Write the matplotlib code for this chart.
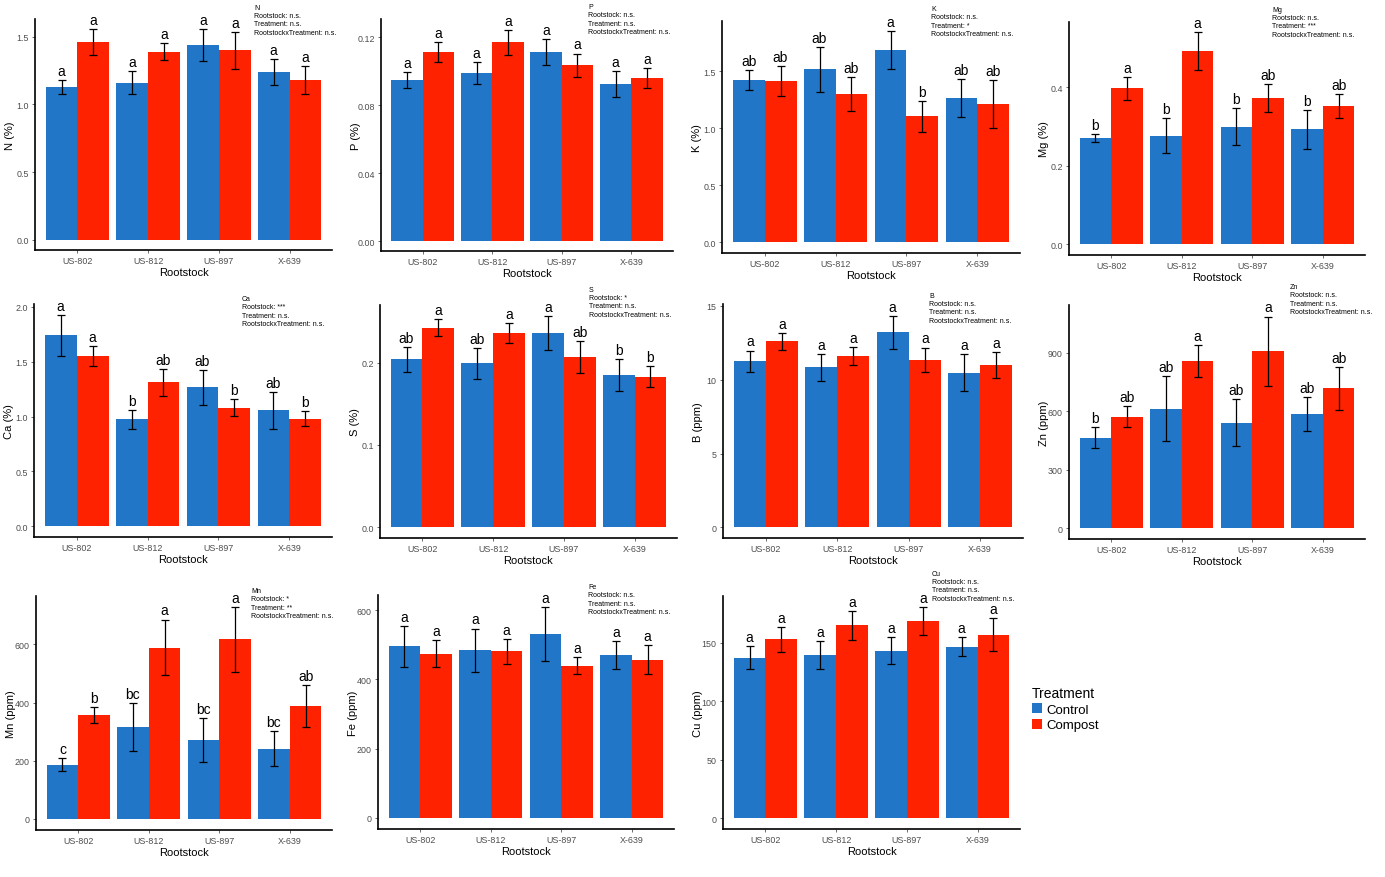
import matplotlib
matplotlib.use("Agg")
import numpy as np
import matplotlib.pyplot as plt
from matplotlib.patches import Patch

plt.rcParams['font.family'] = ['Liberation Sans', 'DejaVu Sans']

rootstocks = ['US-802', 'US-812', 'US-897', 'X-639']

# means and standard errors
N_ctrl = [1.13, 1.16, 1.44, 1.24]
N_ctrl_se = [0.05, 0.085, 0.12, 0.095]
N_comp = [1.46, 1.39, 1.40, 1.18]
N_comp_se = [0.095, 0.06, 0.135, 0.105]
N_ctrl_let = ['a', 'a', 'a', 'a']
N_comp_let = ['a', 'a', 'a', 'a']

P_ctrl = [0.0949, 0.099, 0.1114, 0.0924]
P_ctrl_se = [0.0045, 0.0064, 0.0077, 0.0076]
P_comp = [0.1114, 0.1172, 0.1037, 0.0962]
P_comp_se = [0.006, 0.0073, 0.0068, 0.0058]
P_ctrl_let = ['a', 'a', 'a', 'a']
P_comp_let = ['a', 'a', 'a', 'a']

K_ctrl = [1.42, 1.515, 1.687, 1.261]
K_ctrl_se = [0.088, 0.195, 0.166, 0.165]
K_comp = [1.412, 1.301, 1.103, 1.211]
K_comp_se = [0.135, 0.149, 0.137, 0.206]
K_ctrl_let = ['ab', 'ab', 'a', 'ab']
K_comp_let = ['ab', 'ab', 'b', 'ab']

Mg_ctrl = [0.271, 0.277, 0.300, 0.293]
Mg_ctrl_se = [0.011, 0.044, 0.047, 0.049]
Mg_comp = [0.397, 0.492, 0.372, 0.352]
Mg_comp_se = [0.030, 0.048, 0.035, 0.030]
Mg_ctrl_let = ['b', 'b', 'b', 'b']
Mg_comp_let = ['a', 'a', 'ab', 'ab']

Ca_ctrl = [1.739, 0.974, 1.266, 1.059]
Ca_ctrl_se = [0.187, 0.087, 0.157, 0.168]
Ca_comp = [1.551, 1.311, 1.081, 0.978]
Ca_comp_se = [0.087, 0.125, 0.08, 0.068]
Ca_ctrl_let = ['a', 'b', 'ab', 'ab']
Ca_comp_let = ['a', 'ab', 'b', 'b']

S_ctrl = [0.204, 0.199, 0.236, 0.185]
S_ctrl_se = [0.015, 0.019, 0.0205, 0.019]
S_comp = [0.2425, 0.236, 0.207, 0.183]
S_comp_se = [0.0105, 0.012, 0.019, 0.013]
S_ctrl_let = ['ab', 'ab', 'a', 'b']
S_comp_let = ['a', 'a', 'ab', 'b']

B_ctrl = [11.25, 10.84, 13.21, 10.48]
B_ctrl_se = [0.73, 0.9, 1.1, 1.23]
B_comp = [12.60, 11.63, 11.36, 11.0]
B_comp_se = [0.58, 0.6, 0.82, 0.9]
B_ctrl_let = ['a', 'a', 'a', 'a']
B_comp_let = ['a', 'a', 'a', 'a']

Zn_ctrl = [464, 613, 541, 584]
Zn_ctrl_se = [53, 167, 121, 87]
Zn_comp = [572, 859, 907, 716]
Zn_comp_se = [55, 82, 178, 112]
Zn_ctrl_let = ['b', 'ab', 'ab', 'ab']
Zn_comp_let = ['ab', 'a', 'a', 'ab']

Mn_ctrl = [187, 316, 271, 242]
Mn_ctrl_se = [23, 83, 76, 61]
Mn_comp = [357, 589, 617, 388]
Mn_comp_se = [27, 96, 112, 72]
Mn_ctrl_let = ['c', 'bc', 'bc', 'bc']
Mn_comp_let = ['b', 'a', 'a', 'ab']

Fe_ctrl = [496, 484, 530, 470]
Fe_ctrl_se = [59, 63, 78, 41]
Fe_comp = [475, 481, 440, 457]
Fe_comp_se = [40, 35, 25, 42]
Fe_ctrl_let = ['a', 'a', 'a', 'a']
Fe_comp_let = ['a', 'a', 'a', 'a']

Cu_ctrl = [137.2, 139.2, 143.2, 146.6]
Cu_ctrl_se = [9.8, 11.8, 11.4, 8.0]
Cu_comp = [152.9, 164.8, 168.5, 156.8]
Cu_comp_se = [10.7, 12.3, 12.1, 14.3]
Cu_ctrl_let = ['a', 'a', 'a', 'a']
Cu_comp_let = ['a', 'a', 'a', 'a']

stats = {
    'N': ['n.s.', 'n.s.', 'n.s.'],
    'P': ['n.s.', 'n.s.', 'n.s.'],
    'K': ['n.s.', '*', 'n.s.'],
    'Mg': ['n.s.', '***', 'n.s.'],
    'Ca': ['***', 'n.s.', 'n.s.'],
    'S': ['*', 'n.s.', 'n.s.'],
    'B': ['n.s.', 'n.s.', 'n.s.'],
    'Zn': ['n.s.', 'n.s.', 'n.s.'],
    'Mn': ['*', '**', 'n.s.'],
    'Fe': ['n.s.', 'n.s.', 'n.s.'],
    'Cu': ['n.s.', 'n.s.', 'n.s.'],
}

# layout: name, unit, data, axes box in px (left, top, right, bottom), ylim, yticks, fmt, annotation xy px
panels = [
    ('N', '%', (N_ctrl, N_ctrl_se, N_comp, N_comp_se, N_ctrl_let, N_comp_let),
     (35, 20, 332, 251), (-0.076, 1.631), [0, 0.5, 1.0, 1.5], '{:.1f}', (254, 5)),
    ('P', '%', (P_ctrl, P_ctrl_se, P_comp, P_comp_se, P_ctrl_let, P_comp_let),
     (381, 20, 673, 252), (-0.0057, 0.1308), [0, 0.04, 0.08, 0.12], '{:.2f}', (588, 4)),
    ('K', '%', (K_ctrl, K_ctrl_se, K_comp, K_comp_se, K_ctrl_let, K_comp_let),
     (722, 22, 1020, 254), (-0.094, 1.938), [0, 0.5, 1.0, 1.5], '{:.1f}', (931, 6)),
    ('Mg', '%', (Mg_ctrl, Mg_ctrl_se, Mg_comp, Mg_comp_se, Mg_ctrl_let, Mg_comp_let),
     (1069, 23, 1365, 256), (-0.027, 0.566), [0, 0.2, 0.4], '{:.1f}', (1272, 7)),
    ('Ca', '%', (Ca_ctrl, Ca_ctrl_se, Ca_comp, Ca_comp_se, Ca_ctrl_let, Ca_comp_let),
     (34, 305, 332, 538), (-0.097, 2.025), [0, 0.5, 1.0, 1.5, 2.0], '{:.1f}', (242, 296)),
    ('S', '%', (S_ctrl, S_ctrl_se, S_comp, S_comp_se, S_ctrl_let, S_comp_let),
     (380, 306, 677, 539), (-0.013, 0.270), [0, 0.1, 0.2], '{:.1f}', (589, 287)),
    ('B', 'ppm', (B_ctrl, B_ctrl_se, B_comp, B_comp_se, B_ctrl_let, B_comp_let),
     (723, 305, 1023, 539), (-0.72, 15.13), [0, 5, 10, 15], '{:.0f}', (929, 293)),
    ('Zn', 'ppm', (Zn_ctrl, Zn_ctrl_se, Zn_comp, Zn_comp_se, Zn_ctrl_let, Zn_comp_let),
     (1069, 306, 1365, 540), (-56, 1144), [0, 300, 600, 900], '{:.0f}', (1290, 284)),
    ('Mn', 'ppm', (Mn_ctrl, Mn_ctrl_se, Mn_comp, Mn_comp_se, Mn_ctrl_let, Mn_comp_let),
     (36, 597, 332, 831), (-38, 766), [0, 200, 400, 600], '{:.0f}', (251, 588)),
    ('Fe', 'ppm', (Fe_ctrl, Fe_ctrl_se, Fe_comp, Fe_comp_se, Fe_ctrl_let, Fe_comp_let),
     (378, 596, 674, 830), (-32, 644), [0, 200, 400, 600], '{:.0f}', (588, 584)),
    ('Cu', 'ppm', (Cu_ctrl, Cu_ctrl_se, Cu_comp, Cu_comp_se, Cu_ctrl_let, Cu_comp_let),
     (723, 597, 1020, 830), (-9.4, 189.9), [0, 50, 100, 150], '{:.0f}', (932, 571)),
]

BLUE = '#2176C7'
RED = '#FE2200'
W, H = 1385, 878

fig = plt.figure(figsize=(W / 100, H / 100), dpi=100)

x = np.arange(1, 5)
bw = 0.45

for name, unit, data, box, ylim, yticks, fmt, ann in panels:
    ctrl, ctrl_se, comp, comp_se, ctrl_let, comp_let = data
    l, t, r, b = box
    ax = fig.add_axes([l / W, 1 - b / H, (r - l) / W, (b - t) / H])
    for off, vals, se, col, lets in [(-bw / 2, ctrl, ctrl_se, BLUE, ctrl_let),
                                     (bw / 2, comp, comp_se, RED, comp_let)]:
        ax.bar(x + off, vals, width=bw, color=col, edgecolor='none')
        ax.errorbar(x + off, vals, yerr=se, fmt='none', ecolor='black',
                    elinewidth=0.9, capsize=3, capthick=0.9)
        for xi, v, s, lab in zip(x + off, vals, se, lets):
            ax.annotate(lab, (xi, v + s), xytext=(0, 1.5), textcoords='offset points',
                        ha='center', va='bottom', fontsize=10)
    ax.set_xlim(0.4, 4.6)
    ax.set_ylim(*ylim)
    ax.set_yticks(yticks)
    ax.set_yticklabels([fmt.format(v) for v in yticks])
    ax.set_xticks(x)
    ax.set_xticklabels(rootstocks)
    for sp in ['top', 'right']:
        ax.spines[sp].set_visible(False)
    for sp in ['left', 'bottom']:
        ax.spines[sp].set_linewidth(1.2)
        ax.spines[sp].set_color('black')
    ax.tick_params(axis='both', length=2.5, width=0.6, color='#555555',
                   labelsize=6.4, labelcolor='#4D4D4D', pad=2)
    ax.set_xlabel('Rootstock', fontsize=8, labelpad=1)
    ax.set_ylabel(f'{name} ({unit})', fontsize=8)
    ax.yaxis.set_label_coords(-20 / (r - l), 0.5)
    s = stats[name]
    txt = f'{name}\nRootstock: {s[0]}\nTreatment: {s[1]}\nRootstockxTreatment: {s[2]}'
    fig.text(ann[0] / W, 1 - ann[1] / H, txt, fontsize=5, va='top', ha='left',
             linespacing=1.25)

handles = [Patch(facecolor=BLUE, label='Control'), Patch(facecolor=RED, label='Compost')]
fig.legend(handles=handles, title='Treatment', loc='upper left',
           bbox_to_anchor=(1029 / W, 1 - 684 / H), frameon=False, fontsize=9.5,
           title_fontsize=10, handlelength=0.8, handleheight=0.8,
           handletextpad=0.3, labelspacing=0.25, alignment='left', borderaxespad=0,
           borderpad=0.2)

fig.savefig('out.png', dpi=100, facecolor='white')
